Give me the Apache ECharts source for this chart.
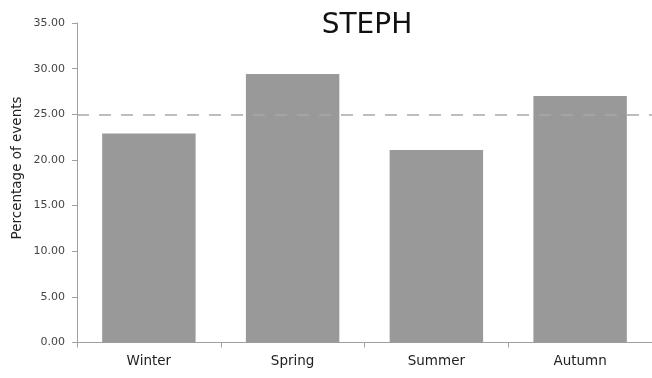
<!DOCTYPE html>
<html>
<head>
<meta charset="utf-8">
<script src="https://cdn.jsdelivr.net/npm/echarts@6/dist/echarts.min.js"></script>
<style>html,body{margin:0;padding:0;background:#fff}#c{width:652px;height:378px}</style>
</head>
<body>
<div id="c"></div>
<script>
const categories = ["Winter", "Spring", "Summer", "Autumn"];
const values = [22.9, 29.4, 21.1, 27.0];
const referenceLevel = 25;
const titleText = "STEPH";
const yAxisTitle = "Percentage of events";

const chart = echarts.init(document.getElementById('c'), null, {renderer: 'canvas'});
chart.setOption({
  animation: false,
  backgroundColor: '#fff',
  textStyle: {fontFamily: 'DejaVu Sans'},
  title: {
    text: titleText, left: 362, top: 7, textAlign: 'center',
    textStyle: {fontFamily: 'DejaVu Sans', fontSize: 28, fontWeight: 'normal', color: '#111'}
  },
  graphic: [{
    type: 'text', x: 17, y: 168, rotation: Math.PI / 2,
    style: {text: yAxisTitle, font: '13.5px "DejaVu Sans"', fill: '#222', align: 'center', verticalAlign: 'middle'}
  }],
  grid: {left: 77, top: 23, bottom: 35.5, width: 578},
  xAxis: {
    type: 'category', data: categories, boundaryGap: true,
    axisLine: {lineStyle: {color: '#a0a0a0', width: 1}},
    axisTick: {show: true, length: 5, lineStyle: {color: '#a0a0a0'}},
    axisLabel: {fontSize: 13.5, color: '#222', margin: 12, fontFamily: 'DejaVu Sans'}
  },
  yAxis: {
    type: 'value', min: 0, max: 35, interval: 5,
    axisLine: {show: true, lineStyle: {color: '#a0a0a0', width: 1}},
    axisTick: {show: true, length: 5, lineStyle: {color: '#a0a0a0'}},
    splitLine: {show: false},
    axisLabel: {fontSize: 11, color: '#444', margin: 12, formatter: v => v.toFixed(2), fontFamily: 'DejaVu Sans'}
  },
  series: [{
    type: 'bar', data: values, barWidth: '65%',
    itemStyle: {color: '#999999'},
    markLine: {
      silent: true, symbol: ['none', 'none'],
      label: {show: false},
      lineStyle: {color: '#a8a8a8', type: [12, 10], width: 1.5},
      data: [{yAxis: referenceLevel}]
    }
  }]
});
</script>
</body>
</html>
